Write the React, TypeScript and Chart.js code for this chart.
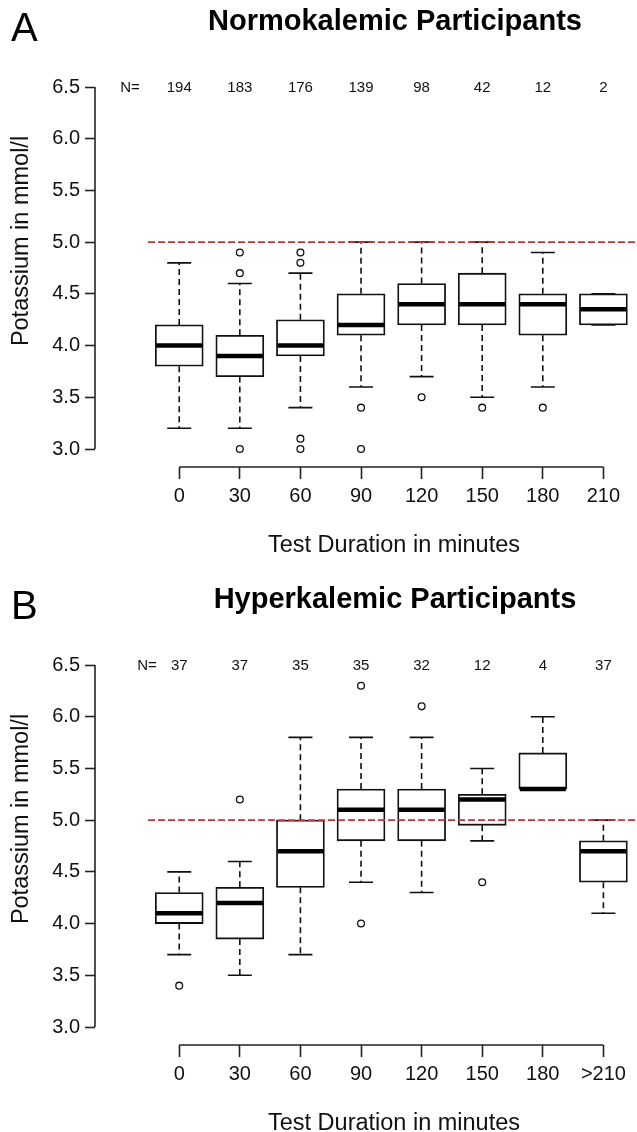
import React, { useEffect, useRef } from "react";
import { Chart, registerables } from "chart.js";

Chart.register(...registerables);

// ---------- Data ----------
const yTicks = [3.0, 3.5, 4.0, 4.5, 5.0, 5.5, 6.0, 6.5];
const thresholdValue = 5.0;

const topTitle = "Normokalemic Participants";
const topLetter = "A";
const topCategories = ["0", "30", "60", "90", "120", "150", "180", "210"];
const topN = [194, 183, 176, 139, 98, 42, 12, 2];
const topLow = [3.2, 3.2, 3.4, 3.6, 3.7, 3.5, 3.6, 4.2];
const topQ1 = [3.8, 3.7, 3.9, 4.1, 4.2, 4.2, 4.1, 4.2];
const topMedian = [4.0, 3.9, 4.0, 4.2, 4.4, 4.4, 4.4, 4.35];
const topQ3 = [4.2, 4.1, 4.25, 4.5, 4.6, 4.7, 4.5, 4.5];
const topHigh = [4.8, 4.6, 4.7, 5.0, 5.0, 5.0, 4.9, 4.5];
const topOutliers = [[], [4.9, 4.7, 3.0], [4.9, 4.8, 3.1, 3.0], [3.4, 3.0], [3.5], [3.4], [3.4], []];

const bottomTitle = "Hyperkalemic Participants";
const bottomLetter = "B";
const bottomCategories = ["0", "30", "60", "90", "120", "150", "180", ">210"];
const bottomN = [37, 37, 35, 35, 32, 12, 4, 37];
const bottomLow = [3.7, 3.5, 3.7, 4.4, 4.3, 4.8, 5.3, 4.1];
const bottomQ1 = [4.0, 3.85, 4.35, 4.8, 4.8, 4.95, 5.3, 4.4];
const bottomMedian = [4.1, 4.2, 4.7, 5.1, 5.1, 5.2, 5.3, 4.7];
const bottomQ3 = [4.3, 4.35, 5.0, 5.3, 5.3, 5.25, 5.65, 4.8];
const bottomHigh = [4.5, 4.6, 5.8, 5.8, 5.8, 5.5, 6.0, 5.0];
const bottomOutliers = [[3.4], [5.2], [], [6.3, 4.0], [6.1], [4.4], [], []];

const xTitle = "Test Duration in minutes";
const yTitle = "Potassium in mmol/l";

// ---------- Styling ----------
const FONT = '"Liberation Sans", Arial, Helvetica, sans-serif';
const INK = "#111";
const RED = "#B8383B";
const W = 637;
const H = 578;
const BOX_W = 48;

type Panel = {
  title: string;
  letter: string;
  categories: string[];
  n: number[];
  low: number[];
  q1: number[];
  median: number[];
  q3: number[];
  high: number[];
  outliers: number[][];
  nLabelX: number;
};

const panels: Panel[] = [
  {
    title: topTitle, letter: topLetter, categories: topCategories, n: topN,
    low: topLow, q1: topQ1, median: topMedian, q3: topQ3, high: topHigh,
    outliers: topOutliers, nLabelX: 130,
  },
  {
    title: bottomTitle, letter: bottomLetter, categories: bottomCategories, n: bottomN,
    low: bottomLow, q1: bottomQ1, median: bottomMedian, q3: bottomQ3, high: bottomHigh,
    outliers: bottomOutliers, nLabelX: 147,
  },
];

function makePlugin(p: Panel) {
  return {
    id: "boxExtras",
    beforeDatasetsDraw(chart: any) {
      const { ctx, scales } = chart;
      const xs = scales.x, ys = scales.y;
      ctx.save();
      ctx.strokeStyle = INK;
      ctx.lineWidth = 1.6;
      p.categories.forEach((_, i) => {
        const x = xs.getPixelForValue(i);
        const yLow = ys.getPixelForValue(p.low[i]);
        const yHigh = ys.getPixelForValue(p.high[i]);
        const yQ1 = ys.getPixelForValue(p.q1[i]);
        const yQ3 = ys.getPixelForValue(p.q3[i]);
        ctx.setLineDash([6, 4]);
        if (p.high[i] > p.q3[i]) {
          ctx.beginPath(); ctx.moveTo(x, yQ3); ctx.lineTo(x, yHigh); ctx.stroke();
        }
        if (p.low[i] < p.q1[i]) {
          ctx.beginPath(); ctx.moveTo(x, yQ1); ctx.lineTo(x, yLow); ctx.stroke();
        }
        ctx.setLineDash([]);
        ctx.beginPath();
        ctx.moveTo(x - BOX_W / 4, yHigh); ctx.lineTo(x + BOX_W / 4, yHigh);
        ctx.moveTo(x - BOX_W / 4, yLow); ctx.lineTo(x + BOX_W / 4, yLow);
        ctx.stroke();
      });
      ctx.restore();
    },
    afterDatasetsDraw(chart: any) {
      const { ctx, scales } = chart;
      const xs = scales.x, ys = scales.y;
      ctx.save();
      ctx.strokeStyle = "#000";
      ctx.lineWidth = 4.5;
      ctx.lineCap = "butt";
      p.categories.forEach((_, i) => {
        const x = xs.getPixelForValue(i);
        const y = ys.getPixelForValue(p.median[i]);
        ctx.beginPath();
        ctx.moveTo(x - BOX_W / 2 + 1, y);
        ctx.lineTo(x + BOX_W / 2 - 1, y);
        ctx.stroke();
      });
      // threshold line
      const yt = ys.getPixelForValue(thresholdValue);
      ctx.strokeStyle = RED;
      ctx.lineWidth = 1.8;
      ctx.setLineDash([7, 3]);
      ctx.beginPath();
      ctx.moveTo(148, yt);
      ctx.lineTo(W, yt);
      ctx.stroke();
      ctx.restore();
    },
    afterDraw(chart: any) {
      const { ctx, scales } = chart;
      const xs = scales.x, ys = scales.y;
      ctx.save();
      ctx.strokeStyle = "#222";
      ctx.lineWidth = 1.6;
      // y axis line
      const yAxisX = chart.chartArea.left;
      ctx.beginPath();
      ctx.moveTo(yAxisX, ys.getPixelForValue(yTicks[0]));
      ctx.lineTo(yAxisX, ys.getPixelForValue(yTicks[yTicks.length - 1]));
      ctx.stroke();
      // x axis line
      const xAxisY = chart.chartArea.bottom;
      ctx.beginPath();
      ctx.moveTo(xs.getPixelForValue(0), xAxisY);
      ctx.lineTo(xs.getPixelForValue(p.categories.length - 1), xAxisY);
      ctx.stroke();

      ctx.fillStyle = INK;
      // N labels
      const yN = ys.getPixelForValue(yTicks[yTicks.length - 1]) + 1;
      ctx.font = `15px ${FONT}`;
      ctx.textAlign = "center";
      ctx.textBaseline = "middle";
      ctx.fillText("N=", p.nLabelX, yN);
      p.n.forEach((v, i) => ctx.fillText(String(v), xs.getPixelForValue(i), yN));

      // panel letter
      ctx.font = `40px ${FONT}`;
      ctx.textAlign = "left";
      ctx.textBaseline = "alphabetic";
      ctx.fillStyle = "#000";
      ctx.fillText(p.letter, 11, 41);

      // title
      ctx.font = `bold 29px ${FONT}`;
      ctx.textAlign = "center";
      ctx.fillText(p.title, 395, 30);

      // x title
      ctx.fillStyle = INK;
      ctx.font = `23.5px ${FONT}`;
      ctx.fillText(xTitle, 394, 552);

      // y title
      ctx.save();
      ctx.translate(22, 241);
      ctx.rotate(-Math.PI / 2);
      ctx.textBaseline = "middle";
      ctx.fillText(yTitle, 0, 0);
      ctx.restore();

      ctx.restore();
    },
  };
}

function BoxPanel({ p }: { p: Panel }) {
  const ref = useRef<HTMLCanvasElement>(null);
  useEffect(() => {
    if (!ref.current) return;
    const boxes = p.categories.map((_, i) => ({ x: i, y: [p.q1[i], p.q3[i]] }));
    const outs: { x: number; y: number }[] = [];
    p.outliers.forEach((arr, i) => arr.forEach((v) => outs.push({ x: i, y: v })));
    const chart = new Chart(ref.current, {
      type: "bar",
      data: {
        datasets: [
          {
            type: "bar",
            data: boxes as any,
            backgroundColor: "#fff",
            borderColor: "#111",
            borderWidth: 1.8,
            borderSkipped: false,
            barThickness: BOX_W,
            grouped: false,
          } as any,
          {
            type: "scatter",
            data: outs,
            pointRadius: 3.4,
            pointBorderWidth: 1.3,
            pointBackgroundColor: "#fff",
            pointBorderColor: "#111",
          } as any,
        ],
      },
      options: {
        animation: false,
        responsive: false,
        devicePixelRatio: 1,
        events: [],
        layout: { padding: { top: 87, left: 0, right: 0, bottom: 0 } },
        plugins: { legend: { display: false }, tooltip: { enabled: false }, title: { display: false } },
        scales: {
          x: {
            type: "linear",
            offset: false,
            min: -1.39,
            max: 7.467,
            afterBuildTicks: (s: any) => {
              s.ticks = p.categories.map((_, i) => ({ value: i }));
            },
            afterFit: (s: any) => {
              s.height = H - 467;
            },
            ticks: {
              autoSkip: false,
              maxRotation: 0,
              padding: 5,
              color: INK,
              font: { family: FONT, size: 20 },
              callback: (v: any) => p.categories[Math.round(Number(v))] ?? "",
            },
            grid: {
              display: true,
              offset: false,
              drawOnChartArea: false,
              drawTicks: true,
              tickLength: 12,
              tickColor: "#222",
              tickWidth: 1.6,
            },
            border: { display: false },
          },
          y: {
            type: "linear",
            min: 2.826,
            max: 6.5,
            afterBuildTicks: (s: any) => {
              s.ticks = yTicks.map((v) => ({ value: v }));
            },
            afterFit: (s: any) => {
              s.width = 95;
            },
            ticks: {
              padding: 5,
              color: INK,
              font: { family: FONT, size: 20 },
              callback: (v: any) => Number(v).toFixed(1),
            },
            grid: {
              display: true,
              drawOnChartArea: false,
              drawTicks: true,
              tickLength: 10,
              tickColor: "#222",
              tickWidth: 1.6,
            },
            border: { display: false },
          },
        },
      } as any,
      plugins: [makePlugin(p)],
    });
    return () => chart.destroy();
  }, [p]);
  return <canvas ref={ref} width={W} height={H} style={{ display: "block", width: W, height: H }} />;
}

export default function App() {
  return (
    <div
      style={{
        position: "absolute",
        left: 0,
        top: 0,
        width: W,
        height: 1132,
        overflow: "hidden",
        background: "#fff",
      }}
    >
      {panels.map((p, i) => (
        <BoxPanel key={i} p={p} />
      ))}
    </div>
  );
}
